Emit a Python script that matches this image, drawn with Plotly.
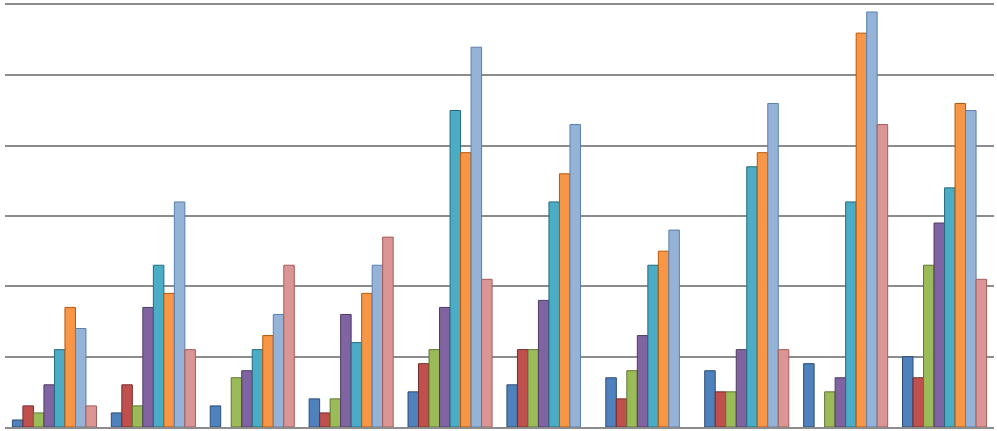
import plotly.graph_objects as go

groups = ["1", "2", "3", "4", "5", "6", "7", "8", "9", "10"]

# None = no bar in that group
s1 = [1, 2, 3, 4, 5, 6, 7, 8, 9, 10]
s2 = [3, 6, None, 2, 9, 11, 4, 5, None, 7]
s3 = [2, 3, 7, 4, 11, 11, 8, 5, 5, 23]
s4 = [6, 17, 8, 16, 17, 18, 13, 11, 7, 29]
s5 = [11, 23, 11, 12, 45, 32, 23, 37, 32, 34]
s6 = [17, 19, 13, 19, 39, 36, 25, 39, 56, 46]
s7 = [14, 32, 16, 23, 54, 43, 28, 46, 59, 45]
s8 = [3, 11, 23, 27, 21, None, None, 11, 43, 21]

series = [s1, s2, s3, s4, s5, s6, s7, s8]
fills = ["#4f81bd", "#c0504d", "#9bbb59", "#8064a2",
         "#4bacc6", "#f79646", "#95b3d7", "#da9694"]
edges = ["#2c4d75", "#772c2a", "#5f7530", "#4d3b62",
         "#276a7c", "#b65708", "#5a7fb0", "#a55c5a"]

fig = go.Figure()
for vals, c, e in zip(series, fills, edges):
    fig.add_trace(go.Bar(x=groups, y=vals, marker=dict(color=c, line=dict(color=e, width=1)),
                         showlegend=False))

fig.update_layout(
    width=997, height=431,
    margin=dict(l=5, r=3, t=5, b=4),
    barmode="group", bargap=0.15, bargroupgap=0,
    plot_bgcolor="white", paper_bgcolor="white",
)
fig.update_xaxes(showticklabels=False, ticks="", showgrid=False,
                 showline=True, mirror=True, linecolor="#8c8c8c", linewidth=2)
fig.update_yaxes(range=[0, 60], dtick=10, showticklabels=False, ticks="",
                 gridcolor="#8c8c8c", gridwidth=1.5, zeroline=False)

# page margin would shift the chart by 8px
fig.write_html("out.html", config={"displayModeBar": False},
               post_script="document.body.style.margin='0';document.body.style.overflow='hidden';")
